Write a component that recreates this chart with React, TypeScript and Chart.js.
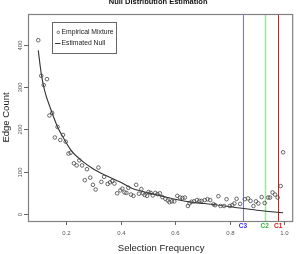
import React, { useEffect, useRef } from "react";
import { Chart, registerables } from "chart.js";

Chart.register(...registerables);

const titleText = "Null Distribution Estimation";
const xTitle = "Selection Frequency";
const yTitle = "Edge Count";
const legendLabels = ["Empirical Mixture", "Estimated Null"];

const mixX = [0.097,0.108,0.117,0.129,0.138,0.148,0.158,0.168,0.178,0.188,0.198,0.208,0.216,0.228,0.238,0.248,0.258,0.268,0.276,0.288,0.298,0.308,0.318,0.329,0.339,0.352,0.361,0.369,0.377,0.387,0.399,0.406,0.414,0.421,0.428,0.438,0.447,0.457,0.467,0.476,0.482,0.488,0.497,0.502,0.51,0.518,0.527,0.535,0.544,0.553,0.564,0.573,0.579,0.588,0.597,0.608,0.618,0.627,0.636,0.647,0.653,0.66,0.669,0.68,0.689,0.697,0.709,0.719,0.729,0.741,0.747,0.759,0.767,0.78,0.789,0.801,0.81,0.818,0.826,0.839,0.856,0.868,0.877,0.888,0.897,0.906,0.918,0.929,0.942,0.949,0.958,0.967,0.977,0.988,0.997];
const mixY = [411,327,305,319,233,239,181,206,175,187,171,143,145,120,115,127,115,80,106,86,69,58,110,76,88,71,75,78,72,49,56,60,51,50,62,46,43,69,48,59,49,45,43,52,50,44,50,47,49,40,36,32,28,30,30,43,39,38,39,19,25,29,30,33,31,31,33,35,33,23,21,42,19,19,35,19,21,25,36,24,35,37,31,19,30,25,40,26,39,39,51,46,39,66,146];

const nullX = [0.097,0.108,0.12,0.144,0.168,0.18,0.217,0.253,0.301,0.35,0.4,0.441,0.5,0.562,0.6,0.671,0.707,0.828,0.9,0.997];
const nullY = [387,332,293,246,206,191,151,128,106,90,75,61,50,41,35,27,25,15,9,3];

const cutoffs = [0.849, 0.929, 0.979];
const cutoffLabels = ["C3", "C2", "C1"];
const cutoffLineColors = ["#7070ff", "#9fe39f", "#e01818"];
const cutoffTextColors = ["#3030ff", "#33b033", "#e01010"];

const xTicks = [0.2, 0.4, 0.6, 0.8, 1.0];
const xTickLabels = ["0.2", "0.4", "0.6", "0.8", "1.0"];
const yTicks = [0, 100, 200, 300, 400];
const yTickLabels = ["0", "100", "200", "300", "400"];

const FONT = '"Liberation Sans", Arial, sans-serif';

const rPlugin = {
  id: "rstyle",
  beforeDatasetsDraw(chart: any) {
    const { ctx, chartArea, scales } = chart;
    ctx.save();
    cutoffs.forEach((c, i) => {
      const px = Math.round(scales.x.getPixelForValue(c)) + 0.5;
      ctx.strokeStyle = cutoffLineColors[i];
      ctx.lineWidth = i === 1 ? 1.5 : 1;
      ctx.beginPath();
      ctx.moveTo(px, chartArea.top);
      ctx.lineTo(px, chartArea.bottom);
      ctx.stroke();
    });
    ctx.restore();
  },
  afterDraw(chart: any) {
    const { ctx, chartArea, scales } = chart;
    const { left, top, right, bottom } = chartArea;
    ctx.save();
    ctx.strokeStyle = "#808080";
    ctx.lineWidth = 1.2;
    ctx.strokeRect(left - 0.5, top + 0.5, right - left, bottom - top);
    ctx.fillStyle = "#555";
    ctx.font = `6px ${FONT}`;
    ctx.textAlign = "center";
    ctx.textBaseline = "middle";
    ctx.strokeStyle = "#666";
    ctx.lineWidth = 1;
    xTicks.forEach((v, i) => {
      const px = Math.round(scales.x.getPixelForValue(v)) + 0.5;
      ctx.beginPath();
      ctx.moveTo(px, bottom);
      ctx.lineTo(px, bottom + 4);
      ctx.stroke();
      ctx.fillText(xTickLabels[i], px, bottom + 12.5);
    });
    yTicks.forEach((v, i) => {
      const py = Math.round(scales.y.getPixelForValue(v)) + 0.5;
      ctx.beginPath();
      ctx.moveTo(left - 5, py);
      ctx.lineTo(left, py);
      ctx.stroke();
      ctx.save();
      ctx.translate(left - 8.5, py);
      ctx.rotate(-Math.PI / 2);
      ctx.fillText(yTickLabels[i], 0, 0);
      ctx.restore();
    });
    ctx.font = `bold 6.5px ${FONT}`;
    cutoffs.forEach((c, i) => {
      const px = scales.x.getPixelForValue(c);
      ctx.fillStyle = cutoffTextColors[i];
      ctx.fillText(cutoffLabels[i], px, bottom + 5.5);
    });
    ctx.fillStyle = "#111";
    ctx.font = `bold 7.5px ${FONT}`;
    ctx.fillText(titleText, (left + right) / 2 - 3, 2);
    ctx.fillStyle = "#222";
    ctx.font = `9.5px ${FONT}`;
    ctx.fillText(xTitle, (left + right) / 2, 248);
    ctx.save();
    ctx.translate(6.5, 117.5);
    ctx.rotate(-Math.PI / 2);
    ctx.fillText(yTitle, 0, 0);
    ctx.restore();
    ctx.strokeStyle = "#666";
    ctx.lineWidth = 1;
    ctx.strokeRect(52.5, 22.5, 64, 31);
    ctx.fillStyle = "#222";
    ctx.font = `6.8px ${FONT}`;
    ctx.textAlign = "left";
    ctx.beginPath();
    ctx.arc(58.3, 32.3, 1.3, 0, Math.PI * 2);
    ctx.strokeStyle = "#444";
    ctx.lineWidth = 0.7;
    ctx.stroke();
    ctx.fillText(legendLabels[0], 61.5, 32.5);
    ctx.beginPath();
    ctx.moveTo(55, 43.5);
    ctx.lineTo(60.5, 43.5);
    ctx.strokeStyle = "#333";
    ctx.lineWidth = 1;
    ctx.stroke();
    ctx.fillText(legendLabels[1], 61.5, 43.5);
    ctx.restore();
  },
};

export default function App() {
  const ref = useRef<HTMLCanvasElement>(null);
  useEffect(() => {
    if (!ref.current) return;
    const chart = new Chart(ref.current, {
      type: "scatter",
      data: {
        datasets: [
          {
            label: legendLabels[0],
            data: mixX.map((x, i) => ({ x, y: mixY[i] })),
            showLine: false,
            pointStyle: "circle",
            pointRadius: 1.8,
            pointBorderWidth: 0.8,
            pointBorderColor: "#444",
            pointBackgroundColor: "rgba(255,255,255,0)",
          },
          {
            label: legendLabels[1],
            data: nullX.map((x, i) => ({ x, y: nullY[i] })),
            showLine: true,
            pointRadius: 0,
            borderColor: "#333",
            borderWidth: 1.1,
            cubicInterpolationMode: "monotone",
          },
        ],
      },
      options: {
        responsive: false,
        animation: false,
        layout: { padding: { left: 29, top: 14, right: 1, bottom: 33 } },
        scales: {
          x: { type: "linear", min: 0.063, max: 1.034, display: false },
          y: { type: "linear", min: -16.5, max: 473, display: false },
        },
        plugins: {
          legend: { display: false },
          tooltip: { enabled: false },
          title: { display: false },
        },
      },
      plugins: [rPlugin],
    } as any);
    return () => chart.destroy();
  }, []);
  return (
    <div style={{ position: "fixed", left: 0, top: 0, width: 298, height: 254, background: "#fff" }}>
      <canvas ref={ref} width={298} height={254} />
    </div>
  );
}
